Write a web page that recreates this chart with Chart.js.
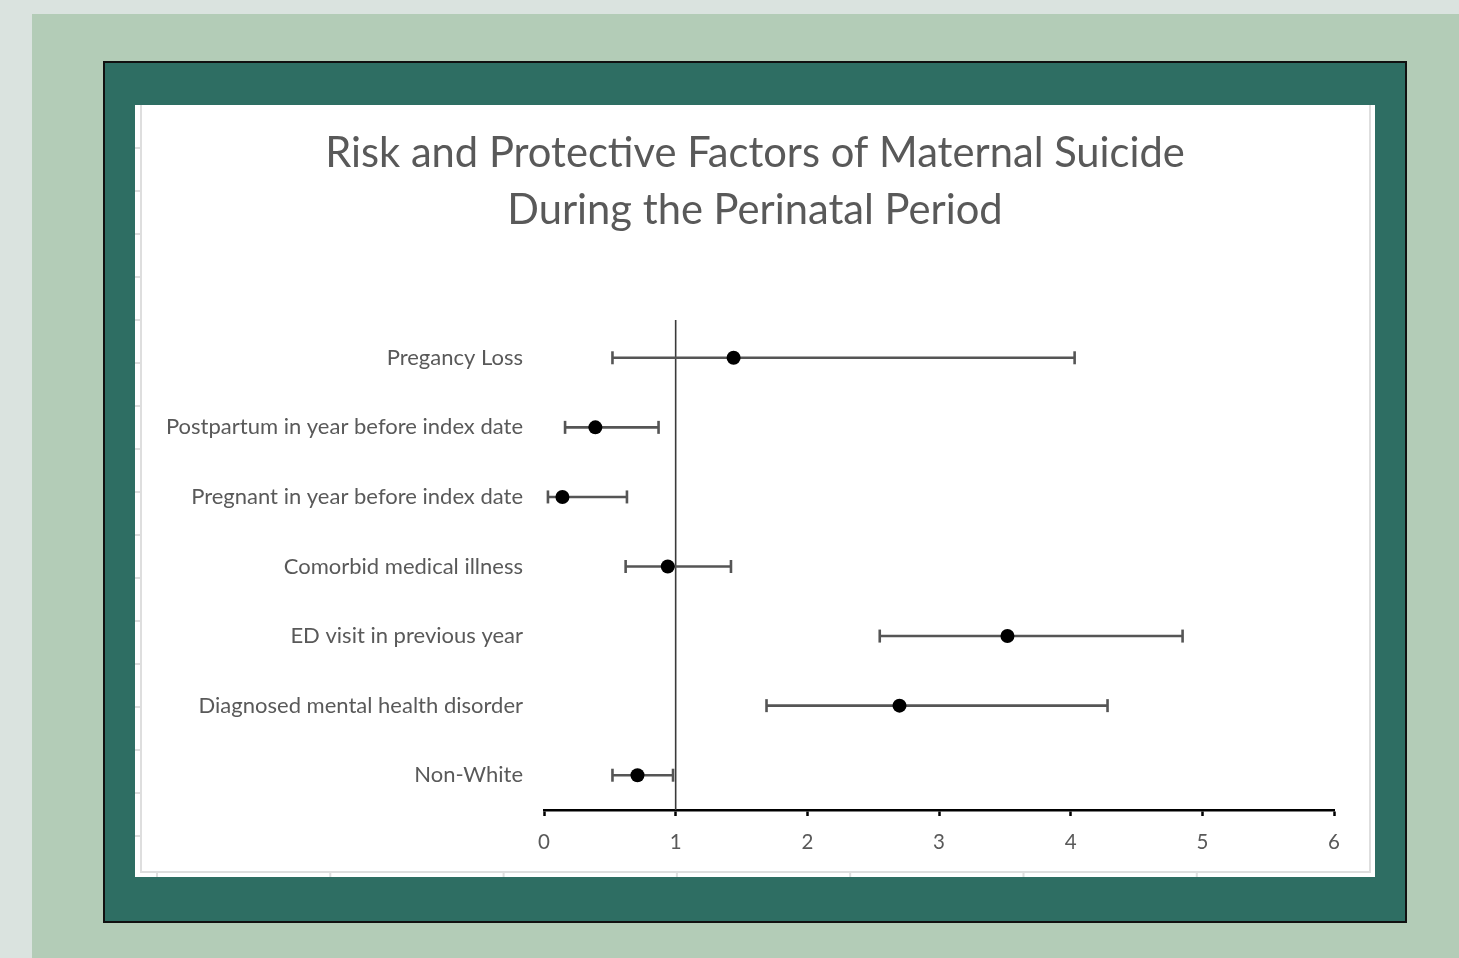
<!DOCTYPE html>
<html>
<head>
<meta charset="utf-8">
<script src="https://cdn.jsdelivr.net/npm/chart.js@4/dist/chart.umd.min.js"></script>
<style>
  html, body { margin: 0; padding: 0; }
  body { width: 1459px; height: 958px; background: #dae3df; position: relative; overflow: hidden; }
  #mat { position: absolute; left: 32px; top: 14px; right: 0; bottom: 0; background: #b3ccb7; }
  #frame { position: absolute; left: 103px; top: 61px; width: 1300px; height: 858px;
           background: #2e6e63; border: 2px solid #111; }
  #panel { position: absolute; left: 135px; top: 105px; width: 1240px; height: 772px; background: #fff; }
  canvas { display: block; }
</style>
</head>
<body>
<div id="mat"></div>
<div id="frame"></div>
<div id="panel"><canvas id="c" width="1240" height="772"></canvas></div>
<script>
// Odds ratios with confidence interval bounds, one entry per factor (top to bottom)
const categories = [
  'Pregancy Loss',
  'Postpartum in year before index date',
  'Pregnant in year before index date',
  'Comorbid medical illness',
  'ED visit in previous year',
  'Diagnosed mental health disorder',
  'Non-White'
];
const estimates = [1.44, 0.39, 0.14, 0.94, 3.52, 2.70, 0.71];
const lowerCI   = [0.52, 0.16, 0.03, 0.62, 2.55, 1.69, 0.52];
const upperCI   = [4.03, 0.87, 0.63, 1.42, 4.85, 4.28, 0.98];
const xTicks    = [0, 1, 2, 3, 4, 5, 6];
const referenceValue = 1;

const textColor = '#595959';
const fontFamily = 'Lato, "Open Sans", sans-serif';

// Faint worksheet cell lines behind the chart
const sheetLines = {
  id: 'sheetLines',
  beforeDraw(chart) {
    const ctx = chart.ctx, w = chart.width, h = chart.height;
    ctx.save();
    ctx.strokeStyle = '#dedede';
    ctx.lineWidth = 2;
    ctx.beginPath();
    ctx.moveTo(6, 0); ctx.lineTo(6, h - 5);
    ctx.lineTo(w - 5, h - 5); ctx.lineTo(w - 5, 0);
    for (let y = 43; y < h - 10; y += 43) { ctx.moveTo(0, y); ctx.lineTo(6, y); }
    for (let x = 22; x < w - 10; x += 173.3) { ctx.moveTo(x, h - 5); ctx.lineTo(x, h); }
    ctx.stroke();
    ctx.restore();
  }
};

// Vertical no-effect line at the reference value
const refLine = {
  id: 'refLine',
  beforeDatasetsDraw(chart) {
    const { ctx, chartArea, scales } = chart;
    const x = scales.x.getPixelForValue(referenceValue);
    ctx.save();
    ctx.strokeStyle = '#3a3a3a';
    ctx.lineWidth = 1.6;
    ctx.beginPath();
    ctx.moveTo(x, chartArea.top - 3);
    ctx.lineTo(x, chartArea.bottom);
    ctx.stroke();
    ctx.restore();
  }
};

const intervalSets = categories.map((cat, i) => ({
  type: 'line',
  data: [{ x: lowerCI[i], y: cat }, { x: upperCI[i], y: cat }],
  borderColor: '#555555',
  borderWidth: 2.6,
  pointStyle: 'line',
  rotation: 90,
  pointRadius: 6.5,
  pointBorderWidth: 2.6,
  pointBorderColor: '#555555',
  pointHoverRadius: 6.5,
  fill: false,
  order: 2
}));

const pointSet = {
  type: 'scatter',
  data: categories.map((cat, i) => ({ x: estimates[i], y: cat })),
  pointStyle: 'circle',
  pointRadius: 7,
  pointHoverRadius: 7,
  backgroundColor: '#000',
  borderColor: '#000',
  borderWidth: 0,
  order: 1
};

new Chart(document.getElementById('c'), {
  type: 'line',
  data: { datasets: [...intervalSets, pointSet] },
  options: {
    responsive: false,
    animation: false,
    events: [],
    layout: { padding: 0 },
    plugins: {
      legend: { display: false },
      tooltip: { enabled: false },
      title: {
        display: true,
        text: ['Risk and Protective Factors of Maternal Suicide', 'During the Perinatal Period'],
        color: textColor,
        font: { family: fontFamily, size: 41.7, weight: 'normal', lineHeight: '57px' },
        padding: { top: 20, bottom: 84 }
      }
    },
    scales: {
      x: {
        type: 'linear',
        min: 0,
        max: 6,
        afterBuildTicks(scale) { scale.ticks = xTicks.map(v => ({ value: v })); },
        afterFit(scale) { scale.height = 67; },
        border: { display: true, color: '#000', width: 2.5 },
        grid: { display: true, drawOnChartArea: false, drawTicks: true, tickLength: 6, color: '#000', tickWidth: 2.5 },
        ticks: { color: textColor, font: { family: fontFamily, size: 20.5 }, padding: 14 }
      },
      y: {
        type: 'category',
        labels: categories,
        offset: true,
        afterFit(scale) { scale.width = 409; },
        border: { display: false },
        grid: { display: false, drawTicks: false },
        ticks: { color: textColor, font: { family: fontFamily, size: 22 }, padding: 21 }
      },
      // empty right-hand margin so the title stays centred on the whole panel
      yMargin: {
        type: 'linear',
        position: 'right',
        display: true,
        afterFit(scale) { scale.width = 41; },
        border: { display: false },
        grid: { display: false, drawTicks: false },
        ticks: { display: false }
      }
    }
  },
  plugins: [sheetLines, refLine]
});
</script>
</body>
</html>
